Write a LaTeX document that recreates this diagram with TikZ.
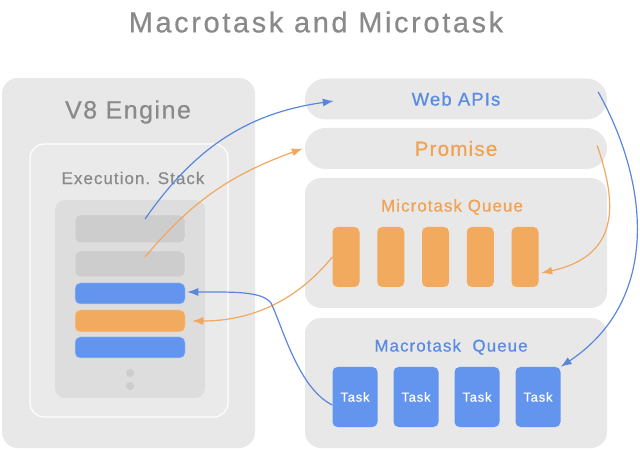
\documentclass[tikz,border=0pt]{standalone}
\usepackage{fontspec}
\setmainfont{Liberation Sans}[LetterSpace=6,FakeBold=0.6]
\usetikzlibrary{arrows.meta}

\definecolor{panelgray}{HTML}{E8E8E8}
\definecolor{framegray}{HTML}{EAEAEA}
\definecolor{stackgray}{HTML}{DDDDDD}
\definecolor{bargray}{HTML}{CDCDCD}
\definecolor{textgray}{HTML}{8A8A8A}
\definecolor{taskblue}{HTML}{6394EE}
\definecolor{lineblue}{HTML}{5A87DC}
\definecolor{textblue}{HTML}{5A8BE3}
\definecolor{taskorange}{HTML}{F2AA5E}
\definecolor{lineorange}{HTML}{F0A860}
\definecolor{textorange}{HTML}{F0A352}

\newcommand{\fs}[1]{\fontsize{#1}{#1}\selectfont}

\begin{document}
\begin{tikzpicture}[x=1pt,y=1pt,
    panel/.style={fill=panelgray,rounded corners=16pt,inner sep=0pt},
    pill/.style={fill=panelgray,rounded corners=20.5pt,inner sep=0pt,
      minimum width=302pt,minimum height=41pt},
    bar/.style={fill=#1,draw=white!50!#1,line width=0.5pt,rounded corners=5pt,
      inner sep=0pt,minimum width=110pt},
    qtask/.style={fill=taskorange,rounded corners=5pt,inner sep=0pt,
      minimum width=27pt,minimum height=60pt},
    mtask/.style={fill=taskblue,rounded corners=5pt,inner sep=0pt,
      minimum width=45pt,minimum height=60pt,text=white,font=\fs{13}},
    blueflow/.style={draw=lineblue,line width=1.2pt,-{Latex[length=11pt,width=8pt]}},
    orangeflow/.style={draw=lineorange,line width=1.2pt,-{Latex[length=11pt,width=8pt]}}]
  \useasboundingbox (0,0) rectangle (640,450);

  \node[text=textgray,font=\fs{29}\addfontfeature{LetterSpace=9}] (title) at (316,428)
    {Macrotask and Microtask};

  % engine side
  \node[panel,minimum width=253pt,minimum height=370pt] (engine) at (128.5,187) {};
  \node[text=textgray,font=\fs{25}] (enginelabel) at (128,338) {V8 Engine};
  \node[fill=framegray,draw=white,line width=1.2pt,rounded corners=14pt,inner sep=0pt,
    minimum width=198pt,minimum height=273pt] (stack) at (129,169.5) {};
  \node[text=textgray,font=\fs{17}] (stacklabel) at (133,272) {Execution. Stack};
  \node[fill=stackgray,rounded corners=10pt,inner sep=0pt,
    minimum width=150pt,minimum height=198pt] (frames) at (130,151) {};
  \node[bar=bargray,minimum height=28pt] (gray1) at (130,221) {};
  \node[bar=bargray,minimum height=26pt] (gray2) at (130,186) {};
  \node[bar=taskblue,minimum height=21pt] (blue1) at (130,156.5) {};
  \node[bar=taskorange,minimum height=22pt] (orangebar) at (130,129) {};
  \node[bar=taskblue,minimum height=21pt] (blue2) at (130,102.5) {};
  \fill[bargray] (130,77) circle (4) (130,64) circle (4);

  % queues side
  \node[pill,text=textblue,font=\fs{18.5}] (webapis) at (456,351) {Web APIs};
  \node[pill,text=textorange,font=\fs{20.5}] (promise) at (456,301.5) {Promise};
  \node[panel,minimum width=302pt,minimum height=130pt] (micro) at (456,207) {};
  \node[text=textorange,font=\fs{17}] (microlabel) at (452,243) {Microtask Queue};
  \foreach \i in {1,...,5}
    \node[qtask] (q\i) at ({346+44.75*(\i-1)},193) {};
  \node[panel,minimum width=302pt,minimum height=130pt] (macro) at (456,67) {};
  \node[text=textblue,font=\fs{17}] (macrolabel) at (451,103) {Macrotask\ \ Queue};
  \foreach \i in {1,...,4}
    \node[mtask] (t\i) at ({355+61*(\i-1)},53) {Task};

  % flows
  \coordinate (bend) at (271,147);
  \draw[blueflow] ([xshift=15pt,yshift=10pt]gray1.center) to[out=55,in=188]
    ([xshift=29pt,yshift=-2pt]webapis.west);
  \draw[orangeflow] ([xshift=15pt,yshift=7pt]gray2.center) to[out=50,in=200]
    ([xshift=-2pt]promise.west);
  \draw[blueflow] ([xshift=-9pt,yshift=7pt]webapis.east)
    .. controls +(52,-93) and +(99,66) .. (t4.north east);
  \draw[orangeflow] ([xshift=-10pt,yshift=3pt]promise.east)
    .. controls +(17,-50) and +(84,18) .. ([xshift=2.5pt,yshift=-16pt]q5.east);
  \draw[orangeflow] (q1.west) .. controls +(-25,-31) and +(73,0) ..
    ([xshift=7pt]orangebar.east);
  \draw[blueflow] ([yshift=-8pt]t1.west) .. controls +(-34,17) and +(12,-25) .. (bend)
    .. controls +(-9,12) and +(45,0) .. ([xshift=2pt,yshift=1.5pt]blue1.east);
\end{tikzpicture}
\end{document}
